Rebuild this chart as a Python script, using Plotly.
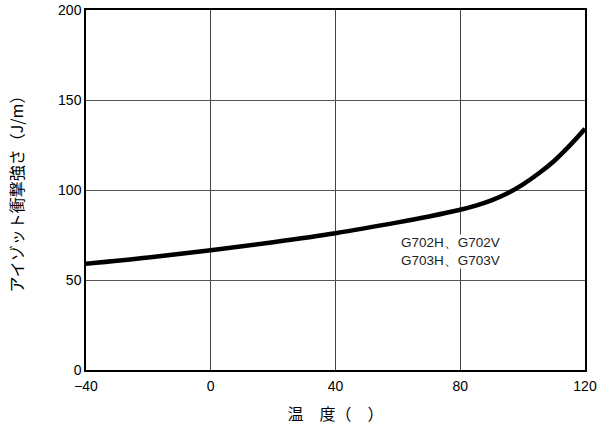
import plotly.graph_objects as go

# Izod impact strength vs temperature
temperature = [-40, -20, 0, 20, 40, 60, 70, 80, 85, 90, 95, 100, 105, 110, 115, 120]
impact_strength = [59.0, 62.5, 66.5, 71.0, 76.0, 82.0, 85.3, 89.0, 91.3, 94.2, 98.0, 103.0, 109.0, 116.0, 124.5, 134.0]

x_ticks = [-40, 0, 40, 80, 120]
x_tick_labels = ["\u221240", "0", "40", "80", "120"]
y_ticks = [0, 50, 100, 150, 200]
grade_label = "G702H\u3001G702V<br>G703H\u3001G703V"

fig = go.Figure()
fig.add_trace(go.Scatter(
    x=temperature, y=impact_strength, mode="lines",
    line=dict(color="black", width=4.5, shape="spline", smoothing=1.0),
    showlegend=False,
))

fig.add_annotation(x=77, y=66, xref="x", yref="y", text=grade_label,
                   showarrow=False, align="center", borderpad=0,
                   font=dict(family="Liberation Sans, Arial", size=13.5, color="#222"),
                   bgcolor="white")

fig.update_xaxes(range=[-40, 120], tickvals=x_ticks, ticktext=x_tick_labels,
                 showgrid=True, gridcolor="#444", gridwidth=1,
                 showline=True, linecolor="black", linewidth=1.5, mirror=True,
                 ticks="", zeroline=False, automargin=False, ticklabelstandoff=2,
                 tickfont=dict(family="Liberation Sans, Arial", size=14, color="black"),
                 title=dict(text="\u6e29\u3000\u5ea6\uff08\u3000\uff09", standoff=16,
                            font=dict(family="Noto Sans CJK JP", size=16, color="black")))
fig.update_yaxes(range=[0, 200], tickvals=y_ticks,
                 showgrid=True, gridcolor="#555", gridwidth=1,
                 showline=True, linecolor="black", linewidth=1.5, mirror=True,
                 ticks="", zeroline=False, automargin=False,
                 tickfont=dict(family="Liberation Sans, Arial", size=14, color="black"),
                 title=dict(text="\u30a2\u30a4\u30be\u30c3\u30c8\u885d\u6483\u5f37\u3055\uff08J/m\uff09", standoff=30,
                            font=dict(family="Noto Sans CJK JP", size=16, color="black")))

fig.update_layout(width=599, height=430, margin=dict(l=86, r=14, t=10, b=60),
                  plot_bgcolor="white", paper_bgcolor="white")

fig.write_html("out.html")
